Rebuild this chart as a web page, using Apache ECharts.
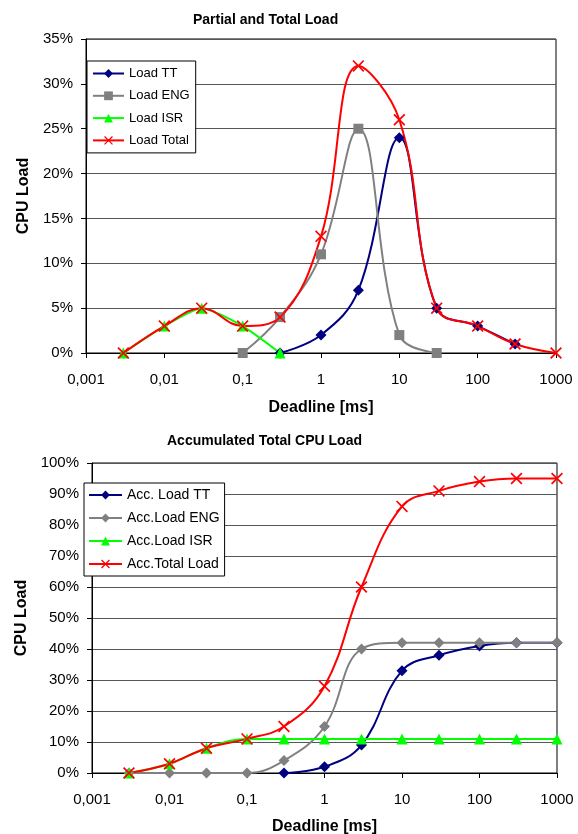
<!DOCTYPE html>
<html>
<head>
<meta charset="utf-8">
<script src="https://cdn.jsdelivr.net/npm/echarts@6/dist/echarts.min.js"></script>
<style>html,body{margin:0;padding:0;background:#fff}#c{width:578px;height:834px}</style>
</head>
<body>
<div id="c"></div>
<script>
// Deadlines [ms]
var deadlines = [0.003, 0.01, 0.03, 0.1, 0.3, 1, 3, 10, 30, 100, 300, 1000];
var xTickLabels = ['0,001', '0,01', '0,1', '1', '10', '100', '1000'];

// Top chart: partial and total load (%)
var loadTT    = [null, null, null, null, 0, 2, 7, 24, 5, 3, 1, null];
var loadENG   = [null, null, null, 0, 4, 11, 25, 2, 0, null, null, null];
var loadISR   = [0, 3, 5, 3, 0, null, null, null, null, null, null, null];
var loadTotal = [0, 3, 5, 3, 4, 13, 32, 26, 5, 3, 1, 0];

// Bottom chart: accumulated load (%)
var accTT    = [null, null, null, null, 0, 2, 9, 33, 38, 41, 42, 42];
var accENG   = [0, 0, 0, 0, 4, 15, 40, 42, 42, 42, 42, 42];
var accISR   = [0, 3, 8, 11, 11, 11, 11, 11, 11, 11, 11, 11];
var accTotal = [0, 3, 8, 11, 15, 28, 60, 86, 91, 94, 95, 95];

function pairs(arr) {
  var out = [];
  for (var i = 0; i < deadlines.length; i++) if (arr[i] !== null) out.push([deadlines[i], arr[i]]);
  return out;
}

var XSYM = 'path://M0,1L1,0L5,4L9,0L10,1L6,5L10,9L9,10L5,6L1,10L0,9L4,5Z';
var FONT = 'Liberation Sans, Arial, sans-serif';

function xFmt(v) {
  var s = Number(Number(v).toPrecision(4)).toString();
  return s.replace('.', ',');
}

function mk(name, data, color, symbol, size, xi, sm) {
  return {
    name: name, type: 'line', xAxisIndex: xi, yAxisIndex: xi,
    data: pairs(data), smooth: sm === undefined ? 0.4 : sm,
    symbol: symbol, symbolSize: size,
    lineStyle: { color: color, width: 2 },
    itemStyle: { color: color },
    emphasis: { disabled: true },
    animation: false
  };
}

function xAxis(gi, nameGap) {
  return {
    type: 'log', logBase: 10, gridIndex: gi, min: 0.001, max: 1000, splitNumber: 6,
    name: 'Deadline [ms]', nameLocation: 'middle', nameGap: nameGap,
    nameTextStyle: { fontFamily: FONT, fontSize: 16, fontWeight: 'bold', color: '#000' },
    axisLine: { show: true, lineStyle: { color: '#000', width: 1 } },
    axisTick: { show: true, length: 5, lineStyle: { color: '#000' } },
    axisLabel: { fontFamily: FONT, fontSize: 15, color: '#000', margin: 19, formatter: xFmt },
    splitLine: { show: false }, minorTick: { show: false }
  };
}

function yAxis(gi, max, interval, nameGap) {
  return {
    type: 'value', gridIndex: gi, min: 0, max: max, interval: interval,
    name: 'CPU Load', nameLocation: 'middle', nameGap: nameGap, nameRotate: 90,
    nameTextStyle: { fontFamily: FONT, fontSize: 16, fontWeight: 'bold', color: '#000' },
    axisLine: { show: true, lineStyle: { color: '#000', width: 1 } },
    axisTick: { show: true, length: 5, lineStyle: { color: '#000' } },
    axisLabel: { fontFamily: FONT, fontSize: 15, color: '#000', margin: 13, formatter: '{value}%' },
    splitLine: { show: true, lineStyle: { color: '#555', width: 1 } }
  };
}

var chart = echarts.init(document.getElementById('c'), null, { renderer: 'canvas' });
chart.setOption({
  backgroundColor: '#fff',
  animation: false,
  title: [
    { text: 'Partial and Total Load', left: 188, top: 8,
      textStyle: { fontFamily: FONT, fontSize: 14, fontWeight: 'bold', color: '#000' } },
    { text: 'Accumulated Total CPU Load', left: 162, top: 429,
      textStyle: { fontFamily: FONT, fontSize: 14, fontWeight: 'bold', color: '#000' } }
  ],
  legend: [
    { data: ['Load TT', 'Load ENG', 'Load ISR', 'Load Total'], orient: 'vertical',
      left: 87, top: 61, itemWidth: 31, itemHeight: 11, itemGap: 9.3,
      padding: [6, 6, 6, 5], backgroundColor: '#fff', borderColor: '#000', borderWidth: 1,
      textStyle: { fontFamily: FONT, fontSize: 13, color: '#000' } },
    { data: ['Acc. Load TT', 'Acc.Load ENG', 'Acc.Load ISR', 'Acc.Total Load'], orient: 'vertical',
      left: 84, top: 483, itemWidth: 33, itemHeight: 11, itemGap: 9,
      padding: [5, 5, 5, 4], backgroundColor: '#fff', borderColor: '#000', borderWidth: 1,
      textStyle: { fontFamily: FONT, fontSize: 14, color: '#000' } }
  ],
  grid: [
    { left: 86, top: 39, right: 22, height: 314, show: true, borderColor: '#000', borderWidth: 1,
      backgroundColor: 'transparent', containLabel: false, outerBoundsMode: 'none' },
    { left: 92, top: 463, right: 21, height: 310, show: true, borderColor: '#000', borderWidth: 1,
      backgroundColor: 'transparent', containLabel: false, outerBoundsMode: 'none' }
  ],
  xAxis: [xAxis(0, 47), xAxis(1, 46)],
  yAxis: [yAxis(0, 35, 5, 48), yAxis(1, 100, 10, 51)],
  series: [
    mk('Load TT', loadTT, '#000080', 'diamond', 11, 0),
    mk('Load ENG', loadENG, '#808080', 'rect', 10, 0),
    mk('Load ISR', loadISR, '#00ff00', 'triangle', 11, 0, 0.2),
    mk('Load Total', loadTotal, '#ff0000', XSYM, 12, 0),
    mk('Acc. Load TT', accTT, '#000080', 'diamond', 11, 1),
    mk('Acc.Load ENG', accENG, '#808080', 'diamond', 11, 1),
    mk('Acc.Load ISR', accISR, '#00ff00', 'triangle', 11, 1),
    mk('Acc.Total Load', accTotal, '#ff0000', XSYM, 12, 1)
  ]
});
</script>
</body>
</html>
